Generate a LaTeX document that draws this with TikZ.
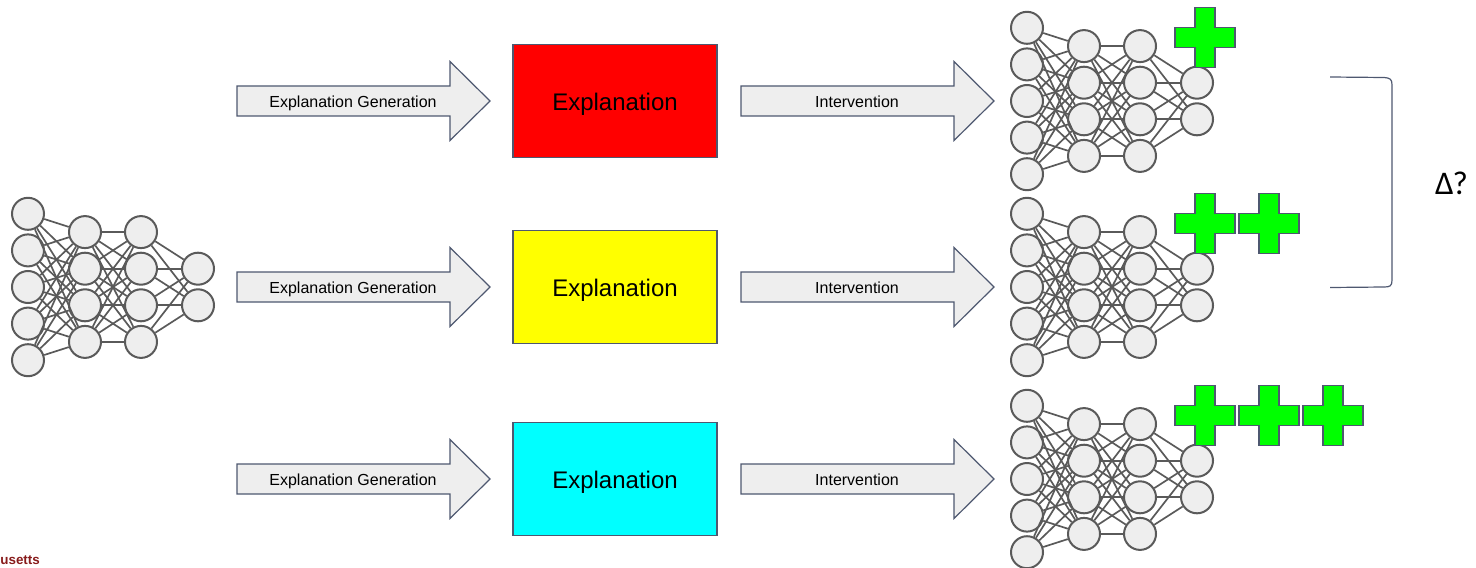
\documentclass[tikz,border=0pt]{standalone}
\usepackage{fontspec}
\setmainfont{Liberation Sans}
\newfontfamily\deltafont{Carlito}
\usetikzlibrary{positioning}
\definecolor{slateedge}{RGB}{78,88,112}
\definecolor{neuronfill}{RGB}{238,238,238}
\definecolor{neurondraw}{RGB}{90,90,90}
\definecolor{plusgreen}{RGB}{0,255,0}
\definecolor{umassred}{RGB}{136,28,28}
\definecolor{explred}{RGB}{255,0,0}
\definecolor{explyellow}{RGB}{255,255,0}
\definecolor{explcyan}{RGB}{0,255,255}
\tikzset{neuron/.style={circle,draw=neurondraw,fill=neuronfill,line width=1pt,minimum size=16pt,inner sep=0pt},
 synapse/.style={neurondraw,line width=.85pt},
 explbox/.style={draw=slateedge,line width=.6pt,minimum width=102pt,minimum height=56.5pt,
  text height=11.7pt,text depth=2.5pt,font=\fontsize{12}{14}\selectfont},
 blockarrow/.style={draw=slateedge,fill=neuronfill,line width=.6pt},
 arrowtext/.style={font=\fontsize{8}{9.6}\selectfont,inner sep=0pt,text height=7.4pt,text depth=1.6pt},
 plusmark/.style={draw=slateedge,fill=plusgreen,line width=.8pt}}
% small network: prefix, x of input layer, y of its middle
\newcommand\drawnet[3]{%
 \foreach \i in {1,...,5} \node[neuron] (#1a\i) at (#2,{#3+(\i-3)*36.6}) {};
 \foreach \i in {1,...,4} {\node[neuron] (#1b\i) at ({#2+57},{#3+(\i-2.5)*36.6}) {};
  \node[neuron] (#1c\i) at ({#2+113},{#3+(\i-2.5)*36.6}) {};}
 \foreach \i in {1,2} \node[neuron] (#1d\i) at ({#2+170},{#3+(\i-1.5)*36.6}) {};
 \foreach \i in {1,...,5} \foreach \j in {1,...,4} \draw[synapse] (#1a\i)--(#1b\j);
 \foreach \i in {1,...,4} \foreach \j in {1,...,4} \draw[synapse] (#1b\i)--(#1c\j);
 \foreach \i in {1,...,4} \foreach \j in {1,2} \draw[synapse] (#1c\i)--(#1d\j);}
% block arrow: name, left x, middle y, text
\newcommand\blockarr[4]{%
 \draw[blockarrow] (#2,{#3-15}) -- ++(213,0) -- ++(0,-24.5) -- ++(40,39.5) -- ++(-40,39.5)
  -- ++(0,-24.5) -- ++(-213,0) -- cycle;
 \node[arrowtext] (#1) at ({#2+116},{#3+.5}) {#4};}
\newcommand\plussign[2]{%
 \draw[plusmark] ({#1-10},{#2-30}) -- ++(20,0) -- ++(0,20) -- ++(20,0) -- ++(0,20) -- ++(-20,0)
  -- ++(0,20) -- ++(-20,0) -- ++(0,-20) -- ++(-20,0) -- ++(0,-20) -- ++(20,0) -- cycle;}

\begin{document}
\begin{tikzpicture}[x=.5pt,y=-.5pt]
\useasboundingbox (0,0) rectangle (1476,567);
\drawnet{base}{28}{287}
\foreach \r/\c/\col in {1/101/explred,2/287/explyellow,3/479/explcyan} {
 \blockarr{gen\r}{237}{\c}{Explanation Generation}
 \node[explbox,fill=\col] (expl\r) at (615,\c) {Explanation};
 \blockarr{int\r}{741}{\c}{Intervention}
 \drawnet{net\r}{1027}{\c}
 \foreach \k [evaluate=\k as \px using 1205+64*(\k-1)] in {1,...,\r} \plussign{\px}{\c-63.5};
}
\draw[slateedge,line width=.6pt] (1330,77) -- (1384,77.5) .. controls (1390,78) and (1392,79) .. (1392,85)
 -- (1392,280) .. controls (1392,286) and (1390,287) .. (1384,287) -- (1330,287.5);
\node[font=\deltafont\fontsize{16.5}{20}\selectfont,inner sep=0pt,anchor=base] (delta) at (1451.5,194.5) {Δ?};
\node[font=\fontsize{6.7}{8}\selectfont\bfseries,text=umassred,anchor=base west,inner sep=0pt]
 (univ) at (0,564) {usetts};
\end{tikzpicture}
\end{document}
